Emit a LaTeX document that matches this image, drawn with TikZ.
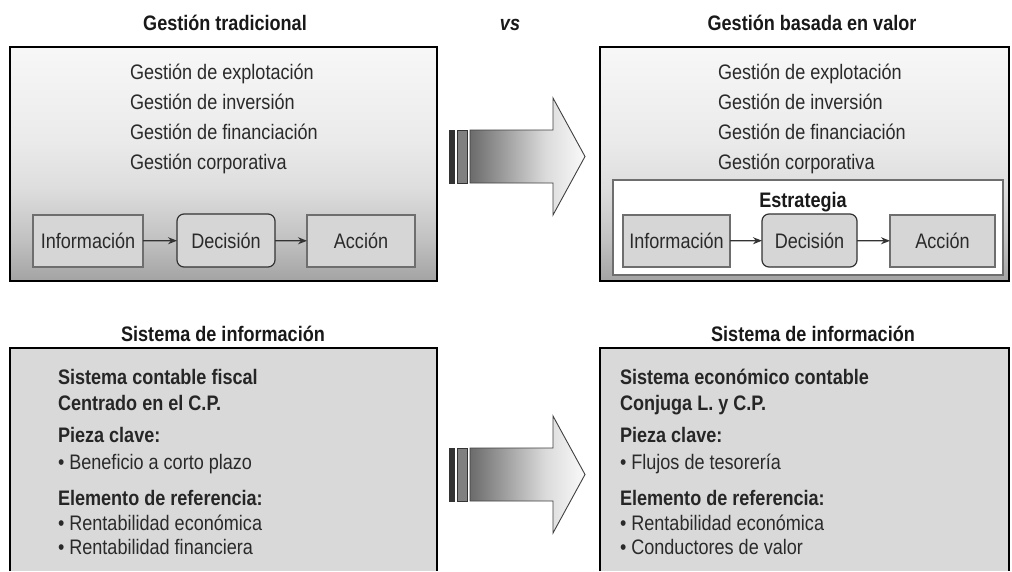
\documentclass[tikz,border=0pt]{standalone}
\usepackage{fontspec}
\setmainfont{Liberation Sans}[FakeStretch=0.86]
\usetikzlibrary{arrows.meta}
\definecolor{boxgray}{HTML}{D6D6D6}
\definecolor{txt}{HTML}{2A2A2A}
\definecolor{lowgray}{HTML}{D9D9D9}
\definecolor{edgegray}{HTML}{6E6E6E}
\pgfdeclareverticalshading{panelshade}{100bp}{color(0bp)=(black!36); color(25bp)=(black!36); color(34bp)=(black!24); color(45bp)=(black!13); color(55bp)=(black!8); color(75bp)=(black!3); color(100bp)=(black!3)}
\pgfdeclarehorizontalshading{arrowshade}{100bp}{color(0bp)=(black!58); color(25bp)=(black!58); color(40bp)=(black!38); color(58bp)=(black!14); color(75bp)=(black!2); color(100bp)=(black!2)}
\begin{document}
\begin{tikzpicture}[x=1pt,y=-1pt,
  every node/.style={font=\fontsize{21}{24}\selectfont, text=txt, inner sep=0pt, outer sep=0pt},
  titletext/.style={font=\fontsize{21}{24}\selectfont\bfseries, text=black!90, anchor=base},
  linetext/.style={anchor=base west},
  boldline/.style={anchor=base west, font=\fontsize{21}{24}\selectfont\bfseries, text=black!85},
  panel/.style={draw=black, line width=2.6pt, shade, shading=panelshade, minimum height=234pt},
  smallbox/.style={draw=edgegray, line width=1.1pt, fill=boxgray, minimum height=52pt},
  decbox/.style={draw=black!80, line width=1.2pt, fill=boxgray, rounded corners=7pt, minimum height=53pt},
  stratbox/.style={draw=edgegray, line width=1.1pt, fill=white, minimum width=390pt, minimum height=95pt},
  conn/.style={draw=black!80, line width=1.3pt, -{Stealth[length=9pt,width=7pt]}},
  bigarrow/.style={draw=black!75, line width=0.9pt, shade, shading=arrowshade},
  bardark/.style={fill=black!80, draw=black!80, line width=0.6pt},
  barmid/.style={fill=black!50, draw=black!80, line width=0.6pt}
]
\useasboundingbox (0,0) rectangle (1012,571);
\fill[white] (0,0) rectangle (1012,571);

% titles
\node[titletext] (t1) at (225,30) {Gestión tradicional};
\node[titletext, font=\fontsize{21}{24}\selectfont\bfseries\itshape] (vs) at (510,30) {vs};
\node[titletext] (t2) at (812,30) {Gestión basada en valor};
\node[titletext] (t3) at (223,341) {Sistema de información};
\node[titletext] (t4) at (813,341) {Sistema de información};

% top panels
\node[panel, minimum width=427pt] (pl) at (223.5,164) {};
\node[panel, minimum width=409pt] (pr) at (804.5,164) {};

\node[linetext] (l1) at (130,79) {Gestión de explotación};
\node[linetext] (l2) at (130,109) {Gestión de inversión};
\node[linetext] (l3) at (130,139) {Gestión de financiación};
\node[linetext] (l4) at (130,169) {Gestión corporativa};

\node[linetext] (r1) at (718,79) {Gestión de explotación};
\node[linetext] (r2) at (718,109) {Gestión de inversión};
\node[linetext] (r3) at (718,139) {Gestión de financiación};
\node[linetext] (r4) at (718,169) {Gestión corporativa};

\node[stratbox] (strat) at (808,227.5) {};
\node[titletext] (stratlbl) at (803,207) {Estrategia};

% left flow
\node[smallbox, minimum width=110pt] (infl) at (88,241) {Información};
\node[decbox, minimum width=98pt] (decl) at (226,240.5) {Decisión};
\node[smallbox, minimum width=108pt] (accl) at (361,241) {Acción};
\draw[conn] (infl) -- (decl);
\draw[conn] (decl) -- (accl);

% right flow
\node[smallbox, minimum width=107pt] (infr) at (676.5,241) {Información};
\node[decbox, minimum width=95pt] (decr) at (809.5,240.5) {Decisión};
\node[smallbox, minimum width=105pt] (accr) at (942.5,241) {Acción};
\draw[conn] (infr) -- (decr);
\draw[conn] (decr) -- (accr);

% top big arrow
\fill[bardark] (449,130) rectangle (454,183);
\filldraw[barmid] (457,130) rectangle (467,183);
\path[bigarrow] (470,130) -- (553,130) -- (553,98) -- (585,156.5) -- (553,215) -- (553,183) -- (470,183) -- cycle;

% bottom panels
\fill[lowgray] (10,348) rectangle (437,571);
\draw[line width=2.6pt] (10,571) -- (10,348) -- (437,348) -- (437,571);
\fill[lowgray] (600,348) rectangle (1009,571);
\draw[line width=2.6pt] (600,571) -- (600,348) -- (1009,348) -- (1009,571);

\node[boldline] (bl1) at (58,384) {Sistema contable fiscal};
\node[boldline] (bl2) at (58,410) {Centrado en el C.P.};
\node[boldline] (bl3) at (58,442) {Pieza clave:};
\node[linetext] (bl4) at (58,469) {\textbullet\ Beneficio a corto plazo};
\node[boldline] (bl5) at (58,505) {Elemento de referencia:};
\node[linetext] (bl6) at (58,530) {\textbullet\ Rentabilidad económica};
\node[linetext] (bl7) at (58,554) {\textbullet\ Rentabilidad financiera};

\node[boldline] (br1) at (620,384) {Sistema económico contable};
\node[boldline] (br2) at (620,410) {Conjuga L. y C.P.};
\node[boldline] (br3) at (620,442) {Pieza clave:};
\node[linetext] (br4) at (620,469) {\textbullet\ Flujos de tesorería};
\node[boldline] (br5) at (620,505) {Elemento de referencia:};
\node[linetext] (br6) at (620,530) {\textbullet\ Rentabilidad económica};
\node[linetext] (br7) at (620,554) {\textbullet\ Conductores de valor};

% bottom big arrow
\fill[bardark] (449,448) rectangle (454,501);
\filldraw[barmid] (457,448) rectangle (467,501);
\path[bigarrow] (470,448) -- (553,448) -- (553,416) -- (585,474.5) -- (553,533) -- (553,501) -- (470,501) -- cycle;
\end{tikzpicture}
\end{document}
